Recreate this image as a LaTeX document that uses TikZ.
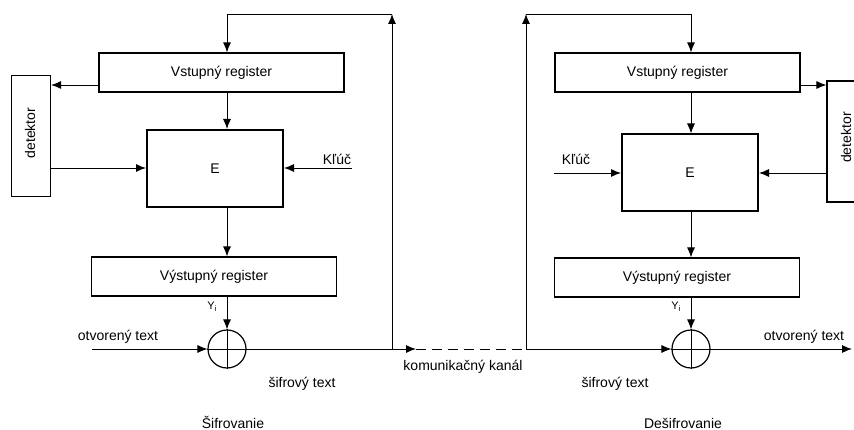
\documentclass[tikz,border=0pt]{standalone}
\usepackage{fontspec}
\setmainfont{Liberation Sans}
\usetikzlibrary{arrows.meta}
\begin{document}
\begin{tikzpicture}[x=1pt,y=-1pt,
  font=\fontsize{14}{16}\selectfont,
  line width=0.9pt,
  arr/.style={-{Latex[length=10pt,width=8pt]}},
  regbox/.style={draw, line width=1.2pt, minimum width=245pt, minimum height=39pt, inner sep=0pt},
  ebox/.style={draw, line width=2pt, minimum width=136pt, minimum height=77pt, inner sep=0pt},
  detbox/.style={draw, line width=1.2pt, minimum width=39pt, minimum height=121pt, inner sep=0pt},
  xorc/.style={draw, circle, line width=1.2pt, minimum size=38pt, inner sep=0pt},
  lbl/.style={anchor=base, inner sep=0pt},
  ylbl/.style={anchor=base west, inner sep=0pt, font=\fontsize{11}{13}\selectfont},
  chan/.style={dash pattern=on 10pt off 6pt}
]
\useasboundingbox (0,0) rectangle (854,430);
\clip (0,0) rectangle (854,430);

% ---------------- left: Sifrovanie ----------------
\node[regbox] (vr1) at (221.5,72.5) {Vstupný register};
\node[detbox] (d1) at (31,136) {};
\node[rotate=90] (d1t) at (30,133) {detektor};
\node[ebox] (e1) at (215,168.5) {E};
\node[regbox] (or1) at (214,276.5) {Výstupný register};
\node[xorc] (x1) at (227,349) {};

\coordinate (in1) at (92,349);
\coordinate (k1) at (352,168);
\coordinate (ch1) at (392,349);
\coordinate (t1a) at (392,14);
\coordinate (t1b) at (227,14);
\coordinate (a1) at (416,349);
\coordinate (de1) at (0,85);
\coordinate (ed1) at (0,168);

\draw[arr] (ch1) -- (t1a);
\draw[arr] (t1a) -- (t1b) -- (t1b |- vr1.north);
\draw[arr] (vr1.west |- de1) -- (d1.east |- de1);
\draw[arr] (vr1.south -| x1) -- (e1.north -| x1);
\draw[arr] (d1.east |- ed1) -- (e1.west |- ed1);
\draw[arr] (k1) -- (e1.east |- k1);
\draw[arr] (e1.south -| x1) -- (or1.north -| x1);
\draw[arr] (or1.south -| x1) -- (x1.north);
\draw (x1.north) -- (x1.south);
\draw (x1.west) -- (x1.east);
\draw[arr] (in1) -- (x1.west);
\draw[arr] (x1.east) -- (a1);

\node[lbl] (kl1) at (337,165) {Kľúč};
\node[ylbl] (y1) at (207,310) {Y\textsubscript{i}};
\node[lbl] (ot1) at (118,340) {otvorený text};
\node[lbl] (st1) at (302,387) {šifrový text};
\node[lbl] (sf) at (233,428) {Šifrovanie};

% ---------------- channel ----------------
\coordinate (ch2) at (526,349);
\draw[chan] (a1) -- (ch2);
\node[lbl] (kk) at (463,370) {komunikačný kanál};

% ---------------- right: Desifrovanie ----------------
\node[regbox] (vr2) at (677.5,72.5) {Vstupný register};
\node[detbox] (d2) at (846.5,141.5) {};
\node[rotate=90] (d2t) at (846,137.5) {detektor};
\node[ebox] (e2) at (690,173) {E};
\node[regbox] (or2) at (677,277.5) {Výstupný register};
\node[xorc] (x2) at (691,349) {};

\coordinate (out2) at (852,349);
\coordinate (k2) at (554,173);
\coordinate (t2a) at (526,14);
\coordinate (t2b) at (691,14);
\coordinate (de2) at (0,85);
\coordinate (ed2) at (0,173);

\draw[arr] (ch2) -- (t2a);
\draw[arr] (t2a) -- (t2b) -- (t2b |- vr2.north);
\draw[arr] (vr2.east |- de2) -- (d2.west |- de2);
\draw[arr] (vr2.south -| x2) -- (e2.north -| x2);
\draw[arr] (d2.west |- ed2) -- (e2.east |- ed2);
\draw[arr] (k2) -- (e2.west |- k2);
\draw[arr] (e2.south -| x2) -- (or2.north -| x2);
\draw[arr] (or2.south -| x2) -- (x2.north);
\draw (x2.north) -- (x2.south);
\draw (x2.west) -- (x2.east);
\draw[arr] (ch2) -- (x2.west);
\draw[arr] (x2.east) -- (out2);

\node[lbl] (kl2) at (576,165) {Kľúč};
\node[ylbl] (y2) at (671,310) {Y\textsubscript{i}};
\node[lbl] (ot2) at (804,340) {otvorený text};
\node[lbl] (st2) at (615,387) {šifrový text};
\node[lbl] (df) at (683,428) {Dešifrovanie};
\end{tikzpicture}
\end{document}
